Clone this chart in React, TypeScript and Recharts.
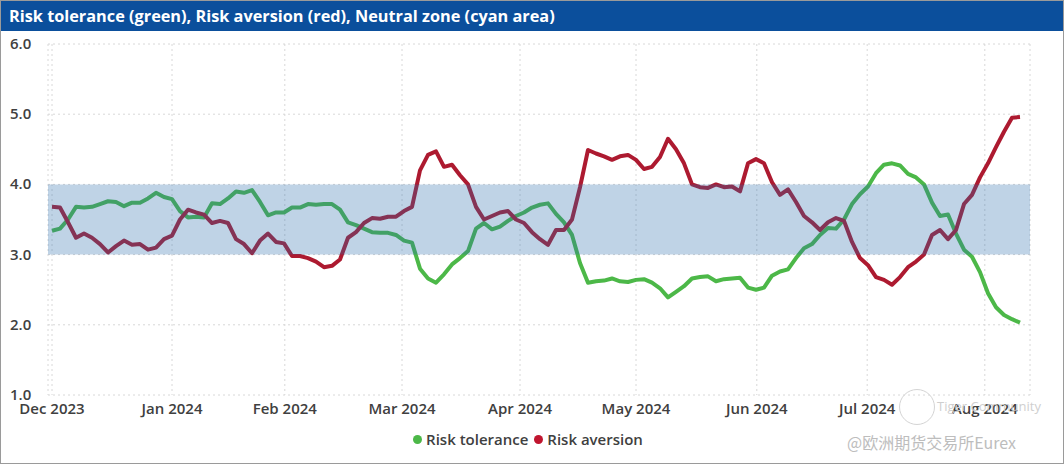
import { LineChart, Line, XAxis, YAxis, CartesianGrid, ReferenceArea, Legend } from 'recharts'

// one point every ~8px of the original plot, Dec 2023 -> mid Aug 2024
const riskTolerance = [
  3.34, 3.37, 3.5, 3.68, 3.67, 3.68, 3.72, 3.76, 3.75, 3.69,
  3.74, 3.74, 3.8, 3.88, 3.82, 3.79, 3.62, 3.53, 3.54, 3.53,
  3.73, 3.72, 3.8, 3.9, 3.88, 3.92, 3.75, 3.56, 3.6, 3.6,
  3.67, 3.67, 3.72, 3.71, 3.72, 3.72, 3.64, 3.46, 3.42, 3.37,
  3.32, 3.31, 3.31, 3.28, 3.2, 3.17, 2.8, 2.66, 2.6, 2.72,
  2.86, 2.95, 3.05, 3.37, 3.45, 3.36, 3.4, 3.48, 3.55, 3.6,
  3.67, 3.71, 3.73, 3.58, 3.46, 3.28, 2.88, 2.6, 2.62, 2.63,
  2.66, 2.62, 2.61, 2.64, 2.65, 2.6, 2.52, 2.39, 2.47, 2.55,
  2.66, 2.68, 2.69, 2.62, 2.65, 2.66, 2.67, 2.53, 2.5, 2.53,
  2.7, 2.76, 2.79, 2.95, 3.09, 3.15, 3.28, 3.38, 3.37, 3.5,
  3.72, 3.86, 3.97, 4.16, 4.28, 4.3, 4.27, 4.15, 4.1, 4.0,
  3.74, 3.55, 3.57, 3.3, 3.07, 2.97, 2.75, 2.45, 2.25, 2.14,
  2.08, 2.03,
]

const riskAversion = [
  3.68, 3.67, 3.46, 3.24, 3.3, 3.24, 3.15, 3.03, 3.12, 3.2,
  3.14, 3.15, 3.07, 3.1, 3.22, 3.27, 3.5, 3.64, 3.6, 3.57,
  3.45, 3.48, 3.45, 3.22, 3.15, 3.02, 3.2, 3.3, 3.18, 3.16,
  2.98, 2.98, 2.95, 2.9, 2.82, 2.84, 2.93, 3.24, 3.32, 3.45,
  3.52, 3.51, 3.54, 3.54, 3.62, 3.68, 4.2, 4.42, 4.47, 4.25,
  4.28, 4.13, 4.0, 3.68, 3.5, 3.55, 3.6, 3.62, 3.5, 3.45,
  3.32, 3.22, 3.14, 3.35, 3.35, 3.5, 3.96, 4.49, 4.44, 4.4,
  4.35, 4.4, 4.42, 4.35, 4.22, 4.25, 4.39, 4.65, 4.5, 4.3,
  4.0, 3.96, 3.95, 4.0, 3.96, 3.97, 3.9, 4.3, 4.36, 4.3,
  4.03, 3.85, 3.93, 3.75, 3.55, 3.46, 3.35, 3.46, 3.52, 3.48,
  3.18, 2.95, 2.85, 2.68, 2.64, 2.57, 2.68, 2.82, 2.9, 3.0,
  3.28, 3.35, 3.22, 3.35, 3.72, 3.85, 4.1, 4.3, 4.53, 4.75,
  4.95, 4.96,
]

const monthTicks = [0, 15, 29.1, 43.75, 58.5, 73, 88.1, 101.9, 116.6]
const monthLabels = ['Dec 2023', 'Jan 2024', 'Feb 2024', 'Mar 2024', 'Apr 2024', 'May 2024', 'Jun 2024', 'Jul 2024', 'Aug 2024']
const yTicks = [1, 2, 3, 4, 5, 6]
const neutralZone = [3, 4]

const GREEN = '#4cb848'
const RED = '#ad1a30'
const FONT = '"Open Sans", "Noto Sans", sans-serif'
const TEXT = '#404040'

const data = riskTolerance.map((v, i) => ({ i, tolerance: v, aversion: riskAversion[i] }))

function YTick({ y, payload }: any) {
  return (
    <text x={9} y={y} dy={5} fill={TEXT} fontSize={15} fontWeight={600} fontFamily={FONT}>
      {Number(payload.value).toFixed(1)}
    </text>
  )
}

function LegendContent() {
  const item = (color: string, label: string) => (
    <span style={{ display: 'inline-flex', alignItems: 'center', marginRight: 6 }}>
      <span style={{ width: 9, height: 9, borderRadius: '50%', background: color, marginRight: 4 }} />
      {label}
    </span>
  )
  return (
    <div style={{ height: 28, lineHeight: '28px', display: 'flex', justifyContent: 'center', fontFamily: FONT, fontSize: 15, fontWeight: 600, color: TEXT }}>
      {item(GREEN, 'Risk tolerance')}
      {item('#c0152f', 'Risk aversion')}
    </div>
  )
}

export default function App() {
  return (
    <div style={{ position: 'fixed', left: 0, top: 0, width: 1062, height: 462, border: '1px solid #9a9a9a', background: '#fff', overflow: 'hidden' }}>
      <div style={{ height: 30, background: '#0b4f9c', color: '#fff', fontFamily: FONT, fontWeight: 700, fontSize: 16.3, lineHeight: '30px', paddingLeft: 8 }}>
        Risk tolerance (green), Risk aversion (red), Neutral zone (cyan area)
      </div>
      <LineChart width={1060} height={430} data={data} margin={{ top: 13, right: 31, left: 0, bottom: 8 }}>
        <CartesianGrid stroke="#d8d8d8" strokeDasharray="2 3" />
        <XAxis
          dataKey="i"
          type="number"
          domain={[-0.5, 122.25]}
          ticks={monthTicks}
          tickFormatter={(v, idx) => monthLabels[idx] ?? ''}
          interval={0}
          axisLine={false}
          tickLine={false}
          tickSize={0}
          tickMargin={8}
          height={30}
          tick={{ fill: TEXT, fontSize: 15, fontWeight: 600, fontFamily: FONT }}
        />
        <YAxis
          domain={[1, 6]}
          ticks={yTicks}
          axisLine={false}
          tickLine={false}
          width={47}
          tick={<YTick />}
        />
        <Line dataKey="tolerance" stroke={GREEN} strokeWidth={4} dot={false} isAnimationActive={false} strokeLinejoin="round" />
        <Line dataKey="aversion" stroke={RED} strokeWidth={4} dot={false} isAnimationActive={false} strokeLinejoin="round" />
        <ReferenceArea y1={neutralZone[0]} y2={neutralZone[1]} fill="#2a6cac" fillOpacity={0.3} stroke="none" zIndex={600} />
        <Legend verticalAlign="bottom" height={28} wrapperStyle={{ left: 0, width: 1060 }} content={<LegendContent />} />
      </LineChart>
      <div style={{ position: 'absolute', left: 898, top: 388, width: 34, height: 34, borderRadius: '50%', border: '1.5px solid #d4d4d4' }} />
      <div style={{ position: 'absolute', left: 936, top: 396, fontFamily: FONT, fontSize: 13, color: '#cfcfcf' }}>Tiger Community</div>
      <div style={{ position: 'absolute', left: 846, top: 429, fontFamily: '"Noto Sans CJK SC", sans-serif', fontSize: 16, color: '#bdbdbd' }}>@欧洲期货交易所Eurex</div>
    </div>
  )
}
